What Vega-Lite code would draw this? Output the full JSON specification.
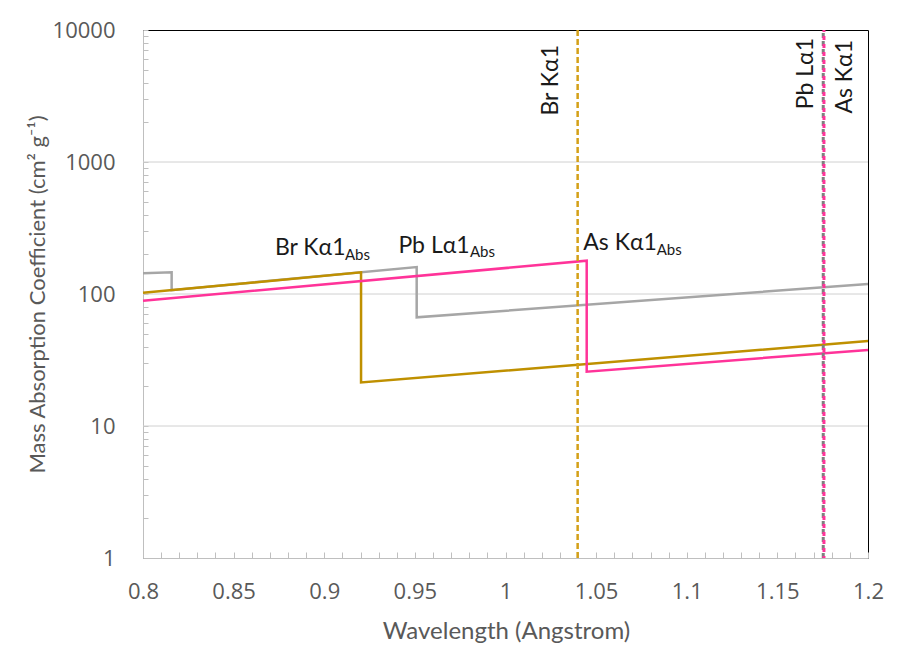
{
  "$schema": "https://vega.github.io/schema/vega-lite/v6.json",
  "width": 725,
  "height": 528,
  "autosize": {"type": "none"},
  "padding": {"left": 143, "top": 30, "right": 30, "bottom": 108},
  "background": "#ffffff",
  "config": {
    "view": {"stroke": "#000000", "strokeWidth": 1},
    "font": "Lato"
  },
  "datasets": {
    "curves": [
      {"s": "Pb", "o": 1, "wl": 0.8, "mac": 143.5},
      {"s": "Pb", "o": 2, "wl": 0.8158, "mac": 146},
      {"s": "Pb", "o": 3, "wl": 0.8158, "mac": 107},
      {"s": "Pb", "o": 4, "wl": 0.951, "mac": 160},
      {"s": "Pb", "o": 5, "wl": 0.951, "mac": 66.6},
      {"s": "Pb", "o": 6, "wl": 1.2, "mac": 119},
      {"s": "Br", "o": 1, "wl": 0.8, "mac": 102},
      {"s": "Br", "o": 2, "wl": 0.9203, "mac": 146},
      {"s": "Br", "o": 3, "wl": 0.9203, "mac": 21.4},
      {"s": "Br", "o": 4, "wl": 1.2, "mac": 44},
      {"s": "As", "o": 1, "wl": 0.8, "mac": 89},
      {"s": "As", "o": 2, "wl": 1.0448, "mac": 178.7},
      {"s": "As", "o": 3, "wl": 1.0448, "mac": 25.8},
      {"s": "As", "o": 4, "wl": 1.2, "mac": 37.7}
    ],
    "vlabels": [
      {"label": "Br Kα1", "wl": 1.029, "mac": 7695},
      {"label": "Pb Lα1", "wl": 1.1696, "mac": 8697},
      {"label": "As Kα1", "wl": 1.1912, "mac": 8400}
    ],
    "hlabels": [
      {"label": "Br Kα1", "wl": 0.8728, "mac": 197.5},
      {"label": "Pb Lα1", "wl": 0.9409, "mac": 204.7},
      {"label": "As Kα1", "wl": 1.0429, "mac": 215.4}
    ],
    "sublabels": [
      {"label": "Abs", "wl": 0.9114, "mac": 181},
      {"label": "Abs", "wl": 0.9804, "mac": 191.7},
      {"label": "Abs", "wl": 1.0834, "mac": 197.5}
    ],
    "grid": [
      {"mac": 10, "wl": 0.8, "wl2": 1.2},
      {"mac": 100, "wl": 0.8, "wl2": 1.2},
      {"mac": 1000, "wl": 0.8, "wl2": 1.2}
    ],
    "lines": [
      {"line": "Br", "wl": 1.0398, "mac": 1, "mac2": 10000},
      {"line": "Pb", "wl": 1.1753, "mac": 1, "mac2": 10000},
      {"line": "As", "wl": 1.1757, "mac": 1, "mac2": 10000}
    ]
  },
  "encoding": {
    "x": {
      "field": "wl", "type": "quantitative",
      "scale": {"domain": [0.8, 1.2], "nice": false, "zero": false},
      "axis": {
        "title": "Wavelength (Angstrom)",
        "values": [0.8,0.81,0.82,0.83,0.84,0.85,0.86,0.87,0.88,0.89,0.9,0.91,0.92,0.93,0.94,0.95,0.96,0.97,0.98,0.99,1,1.01,1.02,1.03,1.04,1.05,1.06,1.07,1.08,1.09,1.1,1.11,1.12,1.13,1.14,1.15,1.16,1.17,1.18,1.19,1.2],
        "format": "~g",
        "labelExpr": "round(datum.value*100) % 5 == 0 ? datum.label : ''",
        "grid": false,
        "domainColor": "#bfbfbf",
        "tickColor": "#bfbfbf",
        "tickSize": -6,
        "labelPadding": 29,
        "labelFont": "Open Sans",
        "labelFontSize": 22,
        "labelColor": "#595959",
        "labelFlush": false,
        "labelOverlap": false,
        "titleFont": "Lato",
        "titleFontSize": 24,
        "titleFontWeight": "normal",
        "titleColor": "#595959",
        "titleX": 363,
        "titleY": 73,
        "titleAlign": "center",
        "titleBaseline": "middle"
      }
    },
    "y": {
      "field": "mac", "type": "quantitative",
      "scale": {"type": "log", "domain": [1, 10000], "nice": false},
      "axis": {
        "title": "Mass Absorption Coefficient (cm² g⁻¹)",
        "values": [1,2,3,4,5,6,7,8,9,10,20,30,40,50,60,70,80,90,100,200,300,400,500,600,700,800,900,1000,2000,3000,4000,5000,6000,7000,8000,9000,10000],
        "format": "d",
        "labelExpr": "(datum.value==1||datum.value==10||datum.value==100||datum.value==1000||datum.value==10000) ? datum.label : ''",
        "grid": false,
        "domainColor": "#bfbfbf",
        "tickColor": "#bfbfbf",
        "tickSize": -5,
        "labelPadding": 33,
        "labelFont": "Open Sans",
        "labelFontSize": 22,
        "labelColor": "#595959",
        "labelOverlap": false,
        "labelFlush": false,
        "titleFont": "Lato",
        "titleFontSize": 22,
        "titleFontWeight": "normal",
        "titleColor": "#595959",
        "titleAngle": -90,
        "titleX": -106,
        "titleY": 264,
        "titleAlign": "center",
        "titleBaseline": "middle"
      }
    }
  },
  "layer": [
    {
      "data": {"name": "grid"},
      "mark": {"type": "rule", "color": "#d0d0d0", "strokeWidth": 1},
      "encoding": {
        "x2": {"field": "wl2"}
      }
    },
    {
      "data": {"name": "curves"},
      "mark": {"type": "line", "strokeWidth": 2.5},
      "encoding": {
        "order": {"field": "o", "type": "quantitative"},
        "color": {
          "field": "s", "type": "nominal",
          "scale": {"domain": ["Pb", "Br", "As"], "range": ["#a6a6a6", "#bf9000", "#ff3399"]},
          "legend": null
        }
      }
    },
    {
      "data": {"name": "lines"},
      "transform": [{"filter": "datum.line == 'Br'"}],
      "mark": {"type": "rule", "color": "#d4a017", "strokeWidth": 2.5, "strokeDash": [6, 3]},
      "encoding": {"y2": {"field": "mac2"}}
    },
    {
      "data": {"name": "lines"},
      "transform": [{"filter": "datum.line == 'Pb'"}],
      "mark": {"type": "rule", "color": "#7f7f7f", "strokeWidth": 3, "strokeDash": [5, 3]},
      "encoding": {"y2": {"field": "mac2"}}
    },
    {
      "data": {"name": "lines"},
      "transform": [{"filter": "datum.line == 'As'"}],
      "mark": {"type": "rule", "color": "#ff3399", "strokeWidth": 3, "strokeDash": [4, 4], "strokeDashOffset": 2},
      "encoding": {"y2": {"field": "mac2"}}
    },
    {
      "data": {"name": "vlabels"},
      "mark": {"type": "text", "angle": 270, "align": "right", "baseline": "alphabetic", "font": "Lato", "fontSize": 23, "color": "#1a1a1a"},
      "encoding": {"text": {"field": "label"}}
    },
    {
      "data": {"name": "hlabels"},
      "mark": {"type": "text", "align": "left", "baseline": "alphabetic", "font": "Lato", "fontSize": 23, "color": "#1a1a1a"},
      "encoding": {"text": {"field": "label"}}
    },
    {
      "data": {"name": "sublabels"},
      "mark": {"type": "text", "align": "left", "baseline": "alphabetic", "font": "Lato", "fontSize": 15, "color": "#1a1a1a"},
      "encoding": {"text": {"field": "label"}}
    }
  ]
}
